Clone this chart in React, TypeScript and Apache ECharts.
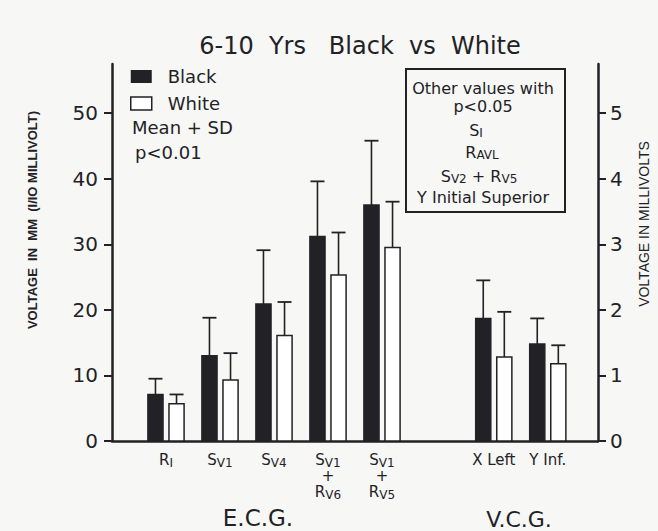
import React, { useEffect, useRef } from 'react';
import * as echarts from 'echarts';

// ---- data ----
const categories = ['R_I', 'S_V1', 'S_V4', 'S_V1+R_V6', 'S_V1+R_V5', 'X Left', 'Y Inf.'];
const categoryPositions = [1, 2, 3, 4, 5, 7.07, 8.07];
const categoryLabels = [
  '{m|R}{s|I}',
  '{m|S}{s|V1}',
  '{m|S}{s|V4}',
  '{m|S}{s|V1}\n{m|+}\n{m|R}{s|V6}',
  '{m|S}{s|V1}\n{m|+}\n{m|R}{s|V5}',
  '{m|X Left}',
  '{m|Y Inf.}',
];
const blackMean = [7.1, 13.0, 20.9, 31.2, 36.0, 18.7, 14.8];
const blackSD = [2.4, 5.8, 8.2, 8.4, 9.8, 5.8, 3.9];
const whiteMean = [5.7, 9.3, 16.1, 25.3, 29.5, 12.8, 11.8];
const whiteSD = [1.4, 4.1, 5.1, 6.5, 7.0, 6.9, 2.8];
const leftTicks = [0, 10, 20, 30, 40, 50];
const rightTicks = [0, 1, 2, 3, 4, 5];

const INK = '#222226';
const FONT = 'DejaVu Sans';

const makeRender = (sign: number, fill: string) => (params: any, api: any) => {
  const x = api.value(0);
  const m = api.value(1);
  const sd = api.value(2);
  const unit = api.size([1, 0])[0];
  const p0 = api.coord([x, 0]);
  const cx = p0[0] + sign * unit * 0.195;
  const base = p0[1];
  const top = api.coord([x, m])[1];
  const errTop = api.coord([x, m + sd])[1];
  const w = unit * 0.28;
  return {
    type: 'group',
    children: [
      { type: 'line', shape: { x1: cx, y1: top, x2: cx, y2: errTop }, style: { stroke: INK, lineWidth: 1.6 } },
      { type: 'line', shape: { x1: cx - 7, y1: errTop, x2: cx + 7, y2: errTop }, style: { stroke: INK, lineWidth: 1.8 } },
      { type: 'rect', shape: { x: cx - w / 2, y: top, width: w, height: base - top }, style: { fill, stroke: INK, lineWidth: 1.5 } },
    ],
  };
};

const subRich = {
  m: { fontSize: 15, fontFamily: FONT, color: INK, lineHeight: 16 },
  s: { fontSize: 12, fontFamily: FONT, color: INK, lineHeight: 11, padding: [5, 0, 0, 0] },
};

export default function App() {
  const ref = useRef<HTMLDivElement>(null);
  useEffect(() => {
    if (!ref.current) return;
    const chart = echarts.init(ref.current, null, { renderer: 'svg' });
    const boxRich = {
      m: { fontSize: 16, fontFamily: FONT, fill: INK, color: INK, lineHeight: 18 },
      s: { fontSize: 12, fontFamily: FONT, fill: INK, color: INK, lineHeight: 12, padding: [6, 0, 0, 0] },
    };
    const option: any = {
      animation: false,
      backgroundColor: '#f7f7f5',
      grid: { left: 112, right: 60, top: 64, bottom: 90 },
      legend: {
        left: 130,
        top: 67.5,
        padding: 0,
        orient: 'vertical',
        icon: 'rect',
        itemWidth: 21,
        itemHeight: 13,
        itemGap: 9,
        selectedMode: false,
        textStyle: { fontSize: 18, fontFamily: FONT, color: INK, padding: [0, 0, 0, 11] },
        data: [
          { name: 'Black', itemStyle: { color: INK } },
          { name: 'White', itemStyle: { color: '#fff', borderColor: INK, borderWidth: 1.5 } },
        ],
      },
      xAxis: {
        type: 'value',
        min: 0,
        max: 9,
        interval: 1,
        splitLine: { show: false },
        axisTick: { show: false },
        axisLine: { show: true, onZero: false, lineStyle: { color: INK, width: 2.5 } },
        axisLabel: {
          customValues: categoryPositions,
          margin: 11,
          hideOverlap: false,
          formatter: (v: number) => {
            const i = categoryPositions.findIndex((p) => Math.abs(p - v) < 1e-6);
            return i >= 0 ? categoryLabels[i] : '';
          },
          rich: subRich,
          color: INK,
          lineHeight: 16,
        },
      },
      yAxis: [
        {
          type: 'value',
          position: 'left',
          min: 0,
          max: 57.5,
          interval: 10,
          splitLine: { show: false },
          axisLine: { show: true, lineStyle: { color: INK, width: 2.5 } },
          axisTick: { show: true, length: 8, customValues: leftTicks, lineStyle: { color: INK, width: 2 } },
          axisLabel: { customValues: leftTicks, margin: 14, fontSize: 20, fontFamily: FONT, color: INK },
        },
        {
          type: 'value',
          position: 'right',
          min: 0,
          max: 5.75,
          interval: 1,
          splitLine: { show: false },
          axisLine: { show: true, lineStyle: { color: INK, width: 2.5 } },
          axisTick: { show: true, length: 8, customValues: rightTicks, lineStyle: { color: INK, width: 2 } },
          axisLabel: { customValues: rightTicks, margin: 12, fontSize: 20, fontFamily: FONT, color: INK },
        },
      ],
      series: [
        {
          name: 'Black',
          type: 'custom',
          itemStyle: { color: INK },
          renderItem: makeRender(-1, INK),
          encode: { x: 0, y: 1 },
          data: categoryPositions.map((p, i) => [p, blackMean[i], blackSD[i], categories[i]]),
        },
        {
          name: 'White',
          type: 'custom',
          itemStyle: { color: '#fff', borderColor: INK },
          renderItem: makeRender(1, '#ffffff'),
          encode: { x: 0, y: 1 },
          data: categoryPositions.map((p, i) => [p, whiteMean[i], whiteSD[i], categories[i]]),
        },
      ],
      graphic: [
        { type: 'text', x: 360, y: 46, style: { text: '6-10  Yrs   Black  vs  White', fontSize: 24, fontFamily: FONT, fill: INK, align: 'center', verticalAlign: 'middle' } },
        { type: 'text', x: 132, y: 127, style: { text: 'Mean + SD', fontSize: 18, fontFamily: FONT, fill: INK, align: 'left', verticalAlign: 'middle' } },
        { type: 'text', x: 135, y: 152, style: { text: 'p<0.01', fontSize: 18, fontFamily: FONT, fill: INK, align: 'left', verticalAlign: 'middle' } },
        { type: 'rect', shape: { x: 406, y: 69, width: 159, height: 143 }, style: { fill: 'none', stroke: INK, lineWidth: 2 } },
        { type: 'text', x: 483, y: 88, style: { text: 'Other values with', fontSize: 16, fontFamily: FONT, fill: INK, align: 'center', verticalAlign: 'middle' } },
        { type: 'text', x: 483, y: 106, style: { text: 'p<0.05', fontSize: 16, fontFamily: FONT, fill: INK, align: 'center', verticalAlign: 'middle' } },
        { type: 'text', x: 476, y: 130, style: { text: '{m|S}{s|I}', rich: boxRich, align: 'center', verticalAlign: 'middle' } },
        { type: 'text', x: 482, y: 152, style: { text: '{m|R}{s|AVL}', rich: boxRich, align: 'center', verticalAlign: 'middle' } },
        { type: 'text', x: 479, y: 176, style: { text: '{m|S}{s|V2}{m| + R}{s|V5}', rich: boxRich, align: 'center', verticalAlign: 'middle' } },
        { type: 'text', x: 483, y: 197, style: { text: 'Y Initial Superior', fontSize: 16, fontFamily: FONT, fill: INK, align: 'center', verticalAlign: 'middle' } },
        { type: 'text', x: 32, y: 220, rotation: Math.PI / 2, style: { text: 'VOLTAGE  IN  MM  (I/IO MILLIVOLT)', fontSize: 13, fontWeight: 'bold', fontFamily: 'Liberation Sans', fill: INK, align: 'center', verticalAlign: 'middle' } },
        { type: 'text', x: 644, y: 224, rotation: Math.PI / 2, style: { text: 'VOLTAGE IN MILLIVOLTS', fontSize: 14, fontFamily: 'Liberation Sans', fill: INK, align: 'center', verticalAlign: 'middle' } },
        { type: 'text', x: 258, y: 518, style: { text: 'E.C.G.', fontSize: 23, fontFamily: FONT, fill: INK, align: 'center', verticalAlign: 'middle' } },
        { type: 'text', x: 519, y: 519, style: { text: 'V.C.G.', fontSize: 22, fontFamily: FONT, fill: INK, align: 'center', verticalAlign: 'middle' } },
      ],
    };
    chart.setOption(option);
    return () => chart.dispose();
  }, []);
  return <div ref={ref} style={{ position: 'absolute', left: 0, top: 0, width: 658, height: 531 }} />;
}
